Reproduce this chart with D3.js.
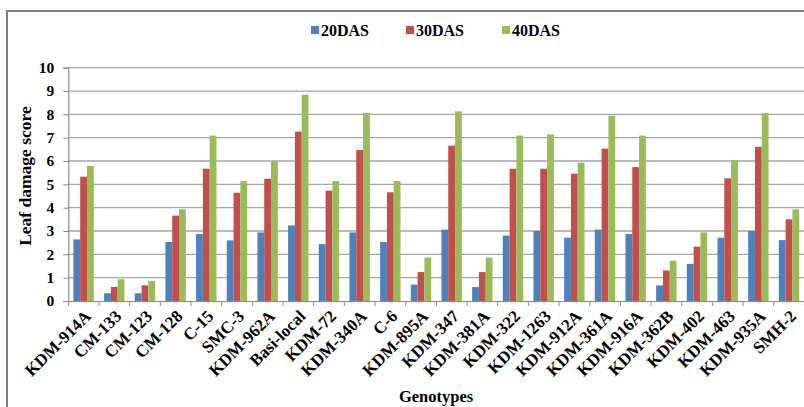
<!DOCTYPE html>
<html>
<head>
<meta charset="utf-8">
<script src="https://cdn.jsdelivr.net/npm/d3@7"></script>
<style>
  body { margin: 0; background: #fff; }
  svg { display: block; }
  text { font-family: "Liberation Serif", "Times New Roman", serif; font-weight: bold; fill: #000; }
</style>
</head>
<body>
<svg id="chart" width="804" height="407"></svg>
<script>
const categories = ["KDM-914A","CM-133","CM-123","CM-128","C-15","SMC-3","KDM-962A","Basi-local","KDM-72","KDM-340A","C-6","KDM-895A","KDM-347","KDM-381A","KDM-322","KDM-1263","KDM-912A","KDM-361A","KDM-916A","KDM-362B","KDM-402","KDM-463","KDM-935A","SMH-2"];
const seriesNames = ["20DAS","30DAS","40DAS"];
const das20 = [2.64,0.33,0.33,2.53,2.87,2.60,2.94,3.24,2.44,2.94,2.53,0.70,3.06,0.60,2.80,3.00,2.71,3.06,2.87,0.67,1.59,2.71,3.00,2.61];
const das30 = [5.33,0.60,0.67,3.66,5.67,4.64,5.24,7.26,4.73,6.47,4.66,1.24,6.66,1.24,5.67,5.67,5.46,6.53,5.74,1.31,2.33,5.26,6.61,3.50];
const das40 = [5.79,0.93,0.86,3.93,7.09,5.14,5.99,8.84,5.14,8.06,5.14,1.86,8.13,1.86,7.09,7.14,5.93,7.94,7.09,1.73,2.94,6.04,8.06,3.93];
const yTicks = [0,1,2,3,4,5,6,7,8,9,10];
const colors = ["#4f81bd","#c0504d","#9bbb59"];
const seriesValues = [das20, das30, das40];

(function () {
const svg = d3.select("#chart");

// outer frame
svg.append("rect").attr("x", 7).attr("y", 11).attr("width", 900).attr("height", 500)
  .attr("fill", "none").attr("stroke", "#7f7f7f").attr("stroke-width", 2);

const pLeft = 68.3, pRight = 804.4, pTop = 67.7, pBottom = 301;
const x = d3.scaleBand().domain(categories).range([pLeft, pRight]).paddingInner(0).paddingOuter(0);
const x1 = d3.scaleBand().domain(seriesNames).range([5.1, 25.5]);
const y = d3.scaleLinear().domain([0, 10]).range([pBottom, pTop]);

// gridlines
svg.append("g").selectAll("line").data(yTicks.filter(d => d > 0)).join("line")
  .attr("x1", pLeft).attr("x2", pRight)
  .attr("y1", d => y(d)).attr("y2", d => y(d))
  .attr("stroke", "#a6a6a6").attr("stroke-width", 1.3);

// bars
const groups = svg.append("g").selectAll("g").data(categories).join("g")
  .attr("transform", d => `translate(${x(d)},0)`);
groups.selectAll("rect").data((c, i) => seriesNames.map((s, j) => ({s, v: seriesValues[j][i], j}))).join("rect")
  .attr("x", d => x1(d.s))
  .attr("width", x1.bandwidth())
  .attr("y", d => y(d.v))
  .attr("height", d => pBottom - y(d.v))
  .attr("fill", d => colors[d.j]);

// y axis
const yAxis = d3.axisLeft(y).tickValues(yTicks).tickSize(5).tickPadding(9).tickFormat(d3.format("d"));
const gy = svg.append("g").attr("transform", `translate(${pLeft},0)`).call(yAxis);
gy.select(".domain").attr("stroke", "#8c8c8c").attr("stroke-width", 1.2);
gy.selectAll(".tick line").attr("stroke", "#8c8c8c");
gy.selectAll(".tick text").style("font-size", "15.5px").style("font-family", "Liberation Serif, serif").style("font-weight", "bold").attr("fill", "#000");

// x axis
const xAxis = d3.axisBottom(x).tickSize(0).tickFormat("");
const gx = svg.append("g").attr("transform", `translate(0,${pBottom})`).call(xAxis);
gx.select(".domain").attr("stroke", "#8c8c8c").attr("stroke-width", 1.2);
// boundary ticks
const bounds = categories.map(c => x(c)).concat([pRight]);
gx.append("g").selectAll("line").data(bounds).join("line")
  .attr("x1", d => d).attr("x2", d => d).attr("y1", 0).attr("y2", 5)
  .attr("stroke", "#8c8c8c");
// rotated labels
gx.append("g").selectAll("text").data(categories).join("text")
  .attr("transform", d => `translate(${x(d) + x.bandwidth() / 2 + 4},${12}) rotate(-45)`)
  .attr("text-anchor", "end")
  .attr("dy", "0.35em")
  .style("font-size", "17px")
  .text(d => d);

// axis titles
svg.append("text").attr("x", 436).attr("y", 402).attr("text-anchor", "middle")
  .style("font-size", "16.5px").text("Genotypes");
svg.append("text").attr("transform", "translate(31,176) rotate(-90)").attr("text-anchor", "middle")
  .style("font-size", "17.5px").text("Leaf damage score");

// legend
const legendX = [311, 406, 502];
const lg = svg.append("g").selectAll("g").data(seriesNames).join("g")
  .attr("transform", (d, i) => `translate(${legendX[i]},30)`);
lg.append("rect").attr("x", 0).attr("y", -4).attr("width", 8).attr("height", 8).attr("fill", (d, i) => colors[i]);
lg.append("text").attr("x", 10).attr("y", 0).attr("dy", "0.35em").style("font-size", "16px").text(d => d);
})();
</script>
</body>
</html>
